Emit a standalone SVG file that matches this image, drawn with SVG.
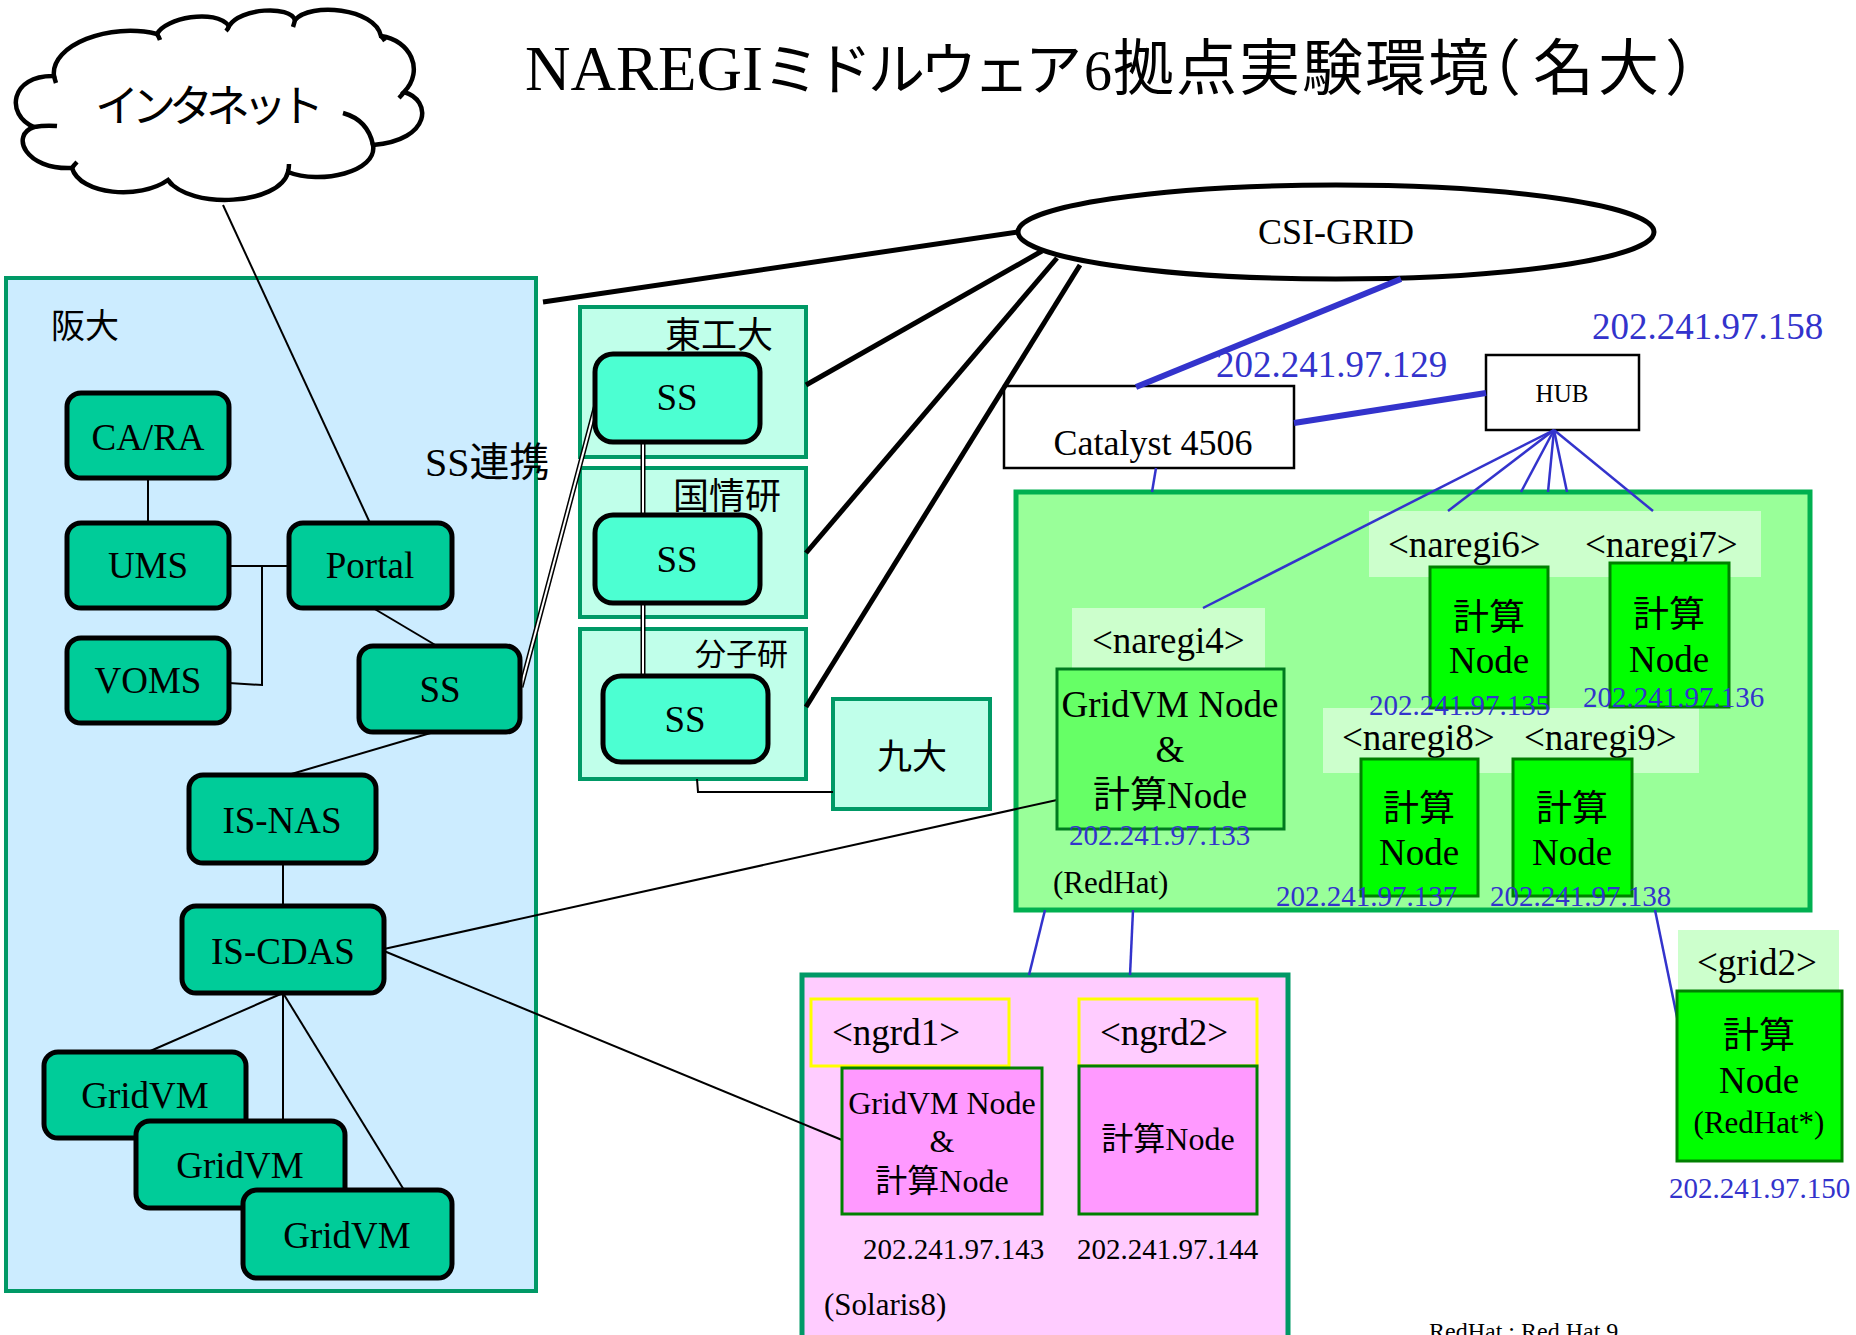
<svg xmlns="http://www.w3.org/2000/svg" width="1856" height="1335" viewBox="0 0 1856 1335">
<style>
.osaka{fill:#CCECFF;stroke:#009966;stroke-width:4}
.site{fill:#C0FFEA;stroke:#009966;stroke-width:4}
.node{fill:#00CC99;stroke:#000;stroke-width:5}
.ss{fill:#4CFFD2;stroke:#000;stroke-width:5}
.t{font-family:"Liberation Serif","Noto Sans CJK JP",serif;fill:#000}
.j{font-family:"Noto Sans CJK JP",sans-serif;fill:#000}
.c{text-anchor:middle}
.ip{fill:#3333CC}
.ln{stroke:#000;stroke-width:2;fill:none}
.thick{stroke:#000;stroke-width:5;fill:none}
.dbl{stroke:#000;stroke-width:5;fill:none}
.dblw{stroke:#fff;stroke-width:2;fill:none}
.blue{stroke:#3333CC;stroke-width:2.5;fill:none}
.bluet{stroke:#3333CC;stroke-width:6;fill:none}
.band{fill:#CCFFCC}
.cn{fill:#00FF00;stroke:#008000;stroke-width:3}
.gvn{fill:#66FF66;stroke:#007A1F;stroke-width:3}
.pk{fill:#FF99FF;stroke:#008000;stroke-width:3}
.box{fill:#fff;stroke:#000;stroke-width:2.5}
</style>
<rect width="1856" height="1335" fill="#fff"/>

<!-- Title -->
<text id="title" class="t" y="90" font-size="63"><tspan x="525">NAREGI</tspan><tspan class="j" font-size="57" x="763 815 868 920 973 1025">ミドルウェア</tspan><tspan x="1084" font-size="56">6</tspan><tspan class="j" font-size="61" x="1113 1176 1239 1302 1365 1428 1460 1533 1598 1665">拠点実験環境（名大）</tspan></text>

<!-- Containers -->
<g id="osaka-site">
<rect class="osaka" x="6" y="278" width="530" height="1013"/>
<text class="j" x="51" y="338" font-size="34">阪大</text>
</g>
<g id="titech-site"><rect class="site" x="580" y="307" width="226" height="150"/><text class="j" x="665" y="348" font-size="36">東工大</text></g>
<g id="nii-site"><rect class="site" x="580" y="468" width="226" height="149"/><text class="j" x="673" y="509" font-size="36">国情研</text></g>
<g id="ims-site"><rect class="site" x="580" y="629" width="226" height="150"/><text class="j" x="695" y="665" font-size="31">分子研</text></g>
<g id="kyushu"><rect class="site" x="833" y="699" width="157" height="110"/><text class="j" x="877" y="769" font-size="35">九大</text></g>
<g id="redhat-cluster">
<rect x="1016" y="492" width="794" height="418" fill="#99FF99" stroke="#00B050" stroke-width="5"/>
<rect class="band" x="1369" y="511" width="392" height="66"/>
<rect class="band" x="1072" y="608" width="193" height="60"/>
<rect class="band" x="1323" y="708" width="376" height="65"/>
</g>
<rect class="band" x="1678" y="930" width="161" height="60"/>
<g id="solaris-cluster"><rect x="802" y="975" width="486" height="380" fill="#FFCCFF" stroke="#009966" stroke-width="5"/></g>
<g id="catalyst"><rect class="box" x="1004" y="386" width="290" height="82"/><text class="t c" x="1153" y="455" font-size="36">Catalyst 4506</text></g>
<g id="hub"><rect class="box" x="1486" y="355" width="153" height="75"/><text class="t c" x="1562" y="402" font-size="25">HUB</text></g>
<g id="csi-grid"><ellipse cx="1336" cy="232" rx="318" ry="47" fill="#fff" stroke="#000" stroke-width="5"/><text class="t c" x="1336" y="244" font-size="36">CSI-GRID</text></g>
<g id="internet">
<path d="M54,76 C50,45 110,22 157,34 C165,18 215,8 229,26 C240,8 290,5 295,20 C310,2 375,8 381,36 C410,40 425,70 404,92 C432,100 432,140 373,145 C378,172 320,185 288,172 C280,205 190,210 168,180 C140,200 80,195 72,168 C25,170 10,135 34,127 C5,115 10,75 54,76 Z" fill="#fff" stroke="#000" stroke-width="4.5"/>
<path d="M54,76 Q55,80 56,83 M157,34 Q159,37 160,40 M229,26 Q228,29 226,31 M295,20 Q294,24 293,27 M381,36 Q383,38 385,41 M404,92 Q402,95 399,98 M343,113 Q368,120 373,145 M288,172 Q289,168 289,164 M168,180 Q170,183 172,185 M72,168 Q74,165 77,162 M34,127 Q45,125 57,126" fill="none" stroke="#000" stroke-width="4.5"/>
<text class="j" x="95" y="122" font-size="44" letter-spacing="-7">インタネット</text>
</g>

<!-- Connectors -->
<g id="connectors">
<line class="ln" x1="223" y1="205" x2="370" y2="523"/>
<line class="ln" x1="148" y1="478" x2="148" y2="523"/>
<line class="ln" x1="229" y1="566" x2="289" y2="566"/>
<polyline class="ln" points="262,566 262,685 229,683"/>
<line class="ln" x1="373" y1="608" x2="437" y2="646"/>
<line class="ln" x1="434" y1="732" x2="288" y2="775"/>
<line class="ln" x1="283" y1="863" x2="283" y2="906"/>
<line class="ln" x1="283" y1="993" x2="148" y2="1052"/>
<line class="ln" x1="283" y1="993" x2="283" y2="1121"/>
<line class="ln" x1="283" y1="993" x2="404" y2="1190"/>
<line class="ln" x1="384" y1="949" x2="1057" y2="800"/>
<line class="ln" x1="384" y1="951" x2="842" y2="1140"/>
<polyline class="ln" points="697,779 698,792 833,792"/>
<line class="dbl" x1="521" y1="687" x2="598" y2="397"/>
<line class="dblw" x1="521" y1="687" x2="598" y2="397"/>
<line class="dbl" x1="643" y1="432" x2="643" y2="515"/>
<line class="dblw" x1="643" y1="432" x2="643" y2="515"/>
<line class="dbl" x1="643" y1="603" x2="643" y2="676"/>
<line class="dblw" x1="643" y1="603" x2="643" y2="676"/>
<line class="thick" x1="1018" y1="232" x2="543" y2="302"/>
<line class="thick" x1="1042" y1="251" x2="806" y2="385"/>
<line class="thick" x1="1057" y1="258" x2="806" y2="553"/>
<line class="thick" x1="1080" y1="265" x2="806" y2="707"/>
<line class="bluet" x1="1401" y1="279" x2="1136" y2="387"/>
<line class="bluet" x1="1294" y1="423" x2="1486" y2="393"/>
<line class="blue" x1="1156" y1="468" x2="1152" y2="492"/>
<line class="blue" x1="1045" y1="910" x2="1029" y2="975"/>
<line class="blue" x1="1133" y1="910" x2="1130" y2="975"/>
<line class="blue" x1="1554" y1="430" x2="1203" y2="608"/>
<line class="blue" x1="1554" y1="430" x2="1448" y2="511"/>
<line class="blue" x1="1554" y1="430" x2="1653" y2="511"/>
<line class="blue" x1="1554" y1="430" x2="1521" y2="492"/>
<line class="blue" x1="1554" y1="430" x2="1548" y2="492"/>
<line class="blue" x1="1554" y1="430" x2="1567" y2="492"/>
<line class="blue" x1="1655" y1="910" x2="1678" y2="1022"/>
</g>

<!-- Osaka nodes -->
<g id="ca-ra"><rect class="node" x="67" y="393" width="162" height="85" rx="14"/><text class="t c" x="148" y="450" font-size="37">CA/RA</text></g>
<g id="ums"><rect class="node" x="67" y="523" width="162" height="85" rx="14"/><text class="t c" x="148" y="578" font-size="37">UMS</text></g>
<g id="voms"><rect class="node" x="67" y="638" width="162" height="85" rx="14"/><text class="t c" x="148" y="693" font-size="37">VOMS</text></g>
<g id="portal"><rect class="node" x="289" y="523" width="163" height="85" rx="14"/><text class="t c" x="370" y="578" font-size="37">Portal</text></g>
<g id="ss-osaka"><rect class="node" x="359" y="646" width="161" height="86" rx="14"/><text class="t c" x="440" y="702" font-size="37">SS</text></g>
<g id="is-nas"><rect class="node" x="189" y="775" width="187" height="88" rx="14"/><text class="t c" x="282" y="833" font-size="37">IS-NAS</text></g>
<g id="is-cdas"><rect class="node" x="182" y="906" width="202" height="87" rx="14"/><text class="t c" x="283" y="964" font-size="37">IS-CDAS</text></g>
<g id="gridvm1"><rect class="node" x="44" y="1052" width="202" height="86" rx="14"/><text class="t c" x="145" y="1108" font-size="37">GridVM</text></g>
<g id="gridvm2"><rect class="node" x="136" y="1121" width="209" height="87" rx="14"/><text class="t c" x="240" y="1178" font-size="37">GridVM</text></g>
<g id="gridvm3"><rect class="node" x="243" y="1190" width="209" height="88" rx="14"/><text class="t c" x="347" y="1248" font-size="37">GridVM</text></g>
<text class="t" x="425" y="476" font-size="40">SS連携</text>

<!-- SS nodes at sites -->
<g id="ss-titech"><rect class="ss" x="595" y="354" width="165" height="88" rx="18"/><text class="t c" x="677" y="410" font-size="37">SS</text></g>
<g id="ss-nii"><rect class="ss" x="595" y="515" width="165" height="88" rx="18"/><text class="t c" x="677" y="572" font-size="37">SS</text></g>
<g id="ss-ims"><rect class="ss" x="603" y="676" width="165" height="86" rx="18"/><text class="t c" x="685" y="732" font-size="37">SS</text></g>

<!-- Network IP labels -->
<text class="t ip" x="1216" y="377" font-size="37">202.241.97.129</text>
<text class="t ip" x="1592" y="339" font-size="37">202.241.97.158</text>

<!-- RedHat cluster contents -->
<text class="t" x="1388" y="557" font-size="37">&lt;naregi6&gt;</text>
<text class="t" x="1585" y="557" font-size="37">&lt;naregi7&gt;</text>
<text class="t" x="1092" y="653" font-size="37">&lt;naregi4&gt;</text>
<text class="t" x="1342" y="750" font-size="37">&lt;naregi8&gt;</text>
<text class="t" x="1524" y="750" font-size="37">&lt;naregi9&gt;</text>
<g id="naregi4"><rect class="gvn" x="1057" y="669" width="227" height="160"/>
<text class="t c" x="1170" y="717" font-size="37">GridVM Node</text>
<text class="t c" x="1170" y="762" font-size="37">&amp;</text>
<text class="t c" x="1170" y="808" font-size="37">計算Node</text></g>
<g id="naregi6"><rect class="cn" x="1430" y="567" width="118" height="141"/>
<text class="j c" x="1489" y="630" font-size="36">計算</text>
<text class="t c" x="1489" y="673" font-size="37">Node</text></g>
<g id="naregi7"><rect class="cn" x="1610" y="563" width="119" height="144"/>
<text class="j c" x="1669" y="627" font-size="36">計算</text>
<text class="t c" x="1669" y="672" font-size="37">Node</text></g>
<g id="naregi8"><rect class="cn" x="1361" y="759" width="117" height="137"/>
<text class="j c" x="1419" y="821" font-size="36">計算</text>
<text class="t c" x="1419" y="865" font-size="37">Node</text></g>
<g id="naregi9"><rect class="cn" x="1513" y="759" width="119" height="137"/>
<text class="j c" x="1572" y="821" font-size="36">計算</text>
<text class="t c" x="1572" y="865" font-size="37">Node</text></g>
<text class="t ip" x="1069" y="845" font-size="29">202.241.97.133</text>
<text class="t ip" x="1369" y="715" font-size="29">202.241.97.135</text>
<text class="t ip" x="1583" y="707" font-size="29">202.241.97.136</text>
<text class="t ip" x="1276" y="906" font-size="29">202.241.97.137</text>
<text class="t ip" x="1490" y="906" font-size="29">202.241.97.138</text>
<text class="t" x="1053" y="893" font-size="31">(RedHat)</text>

<!-- grid2 -->
<text class="t" x="1697" y="975" font-size="37">&lt;grid2&gt;</text>
<g id="grid2"><rect class="cn" x="1677" y="991" width="165" height="170"/>
<text class="j c" x="1759" y="1048" font-size="36">計算</text>
<text class="t c" x="1759" y="1093" font-size="37">Node</text>
<text class="t c" x="1759" y="1133" font-size="31">(RedHat*)</text></g>
<text class="t ip" x="1669" y="1198" font-size="29">202.241.97.150</text>

<!-- Solaris cluster contents -->
<rect x="811" y="999" width="198" height="67" fill="#FFCCFF" stroke="#FFFF00" stroke-width="3"/>
<rect x="1079" y="999" width="178" height="67" fill="#FFCCFF" stroke="#FFFF00" stroke-width="3"/>
<text class="t" x="832" y="1045" font-size="37">&lt;ngrd1&gt;</text>
<text class="t" x="1100" y="1045" font-size="37">&lt;ngrd2&gt;</text>
<g id="ngrd1"><rect class="pk" x="842" y="1068" width="200" height="146"/>
<text class="t c" x="942" y="1114" font-size="32">GridVM Node</text>
<text class="t c" x="942" y="1152" font-size="32">&amp;</text>
<text class="t c" x="942" y="1192" font-size="32">計算Node</text></g>
<g id="ngrd2"><rect class="pk" x="1079" y="1066" width="178" height="148"/>
<text class="t c" x="1168" y="1150" font-size="32">計算Node</text></g>
<text class="t" x="863" y="1259" font-size="29">202.241.97.143</text>
<text class="t" x="1077" y="1259" font-size="29">202.241.97.144</text>
<text class="t" x="824" y="1315" font-size="31">(Solaris8)</text>

<text class="t" x="1429" y="1339" font-size="24">RedHat : Red Hat 9</text>
</svg>
